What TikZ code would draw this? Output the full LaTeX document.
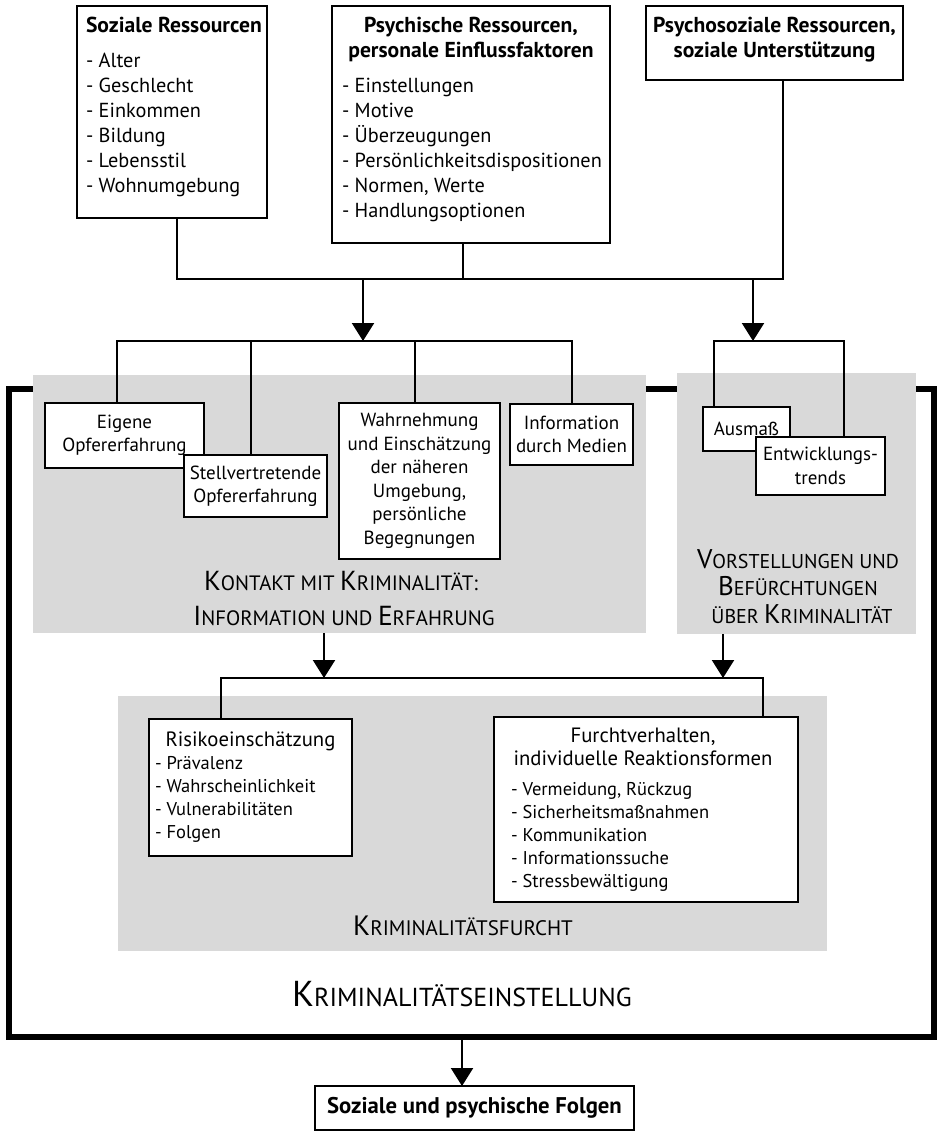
\documentclass[tikz,border=0pt]{standalone}
\usepackage{fontspec}
\setmainfont{PT Sans}
\usetikzlibrary{arrows.meta}
\definecolor{graybg}{RGB}{217,217,217}
\newcommand\capA[2]{{\fontsize{#1}{#1}\selectfont #2}}
\newcommand\hdB[1]{{\fontsize{21.6}{25}\selectfont\bfseries #1}}
\newcommand\hdL[1]{{\fontsize{20.7}{25}\selectfont #1}}
\begin{document}
\begin{tikzpicture}[x=1pt,y=-1pt,
  every node/.style={outer sep=0pt, inner sep=0pt},
  box/.style={draw, line width=2.2pt, fill=white, anchor=north west, align=center,
              font=\fontsize{19}{23.5}\selectfont},
  txt/.style={font=\fontsize{20.3}{25}\selectfont},
  stxt/.style={font=\fontsize{18.5}{23}\selectfont},
  ln/.style={line width=2.2pt},
  arr/.style={line width=2.2pt, -{Triangle[width=22pt,length=18pt]}},
  grayarea/.style={fill=graybg, anchor=north west},
  lab/.style={anchor=base}
]
\useasboundingbox (0,0) rectangle (939,1131);

% outer frame
\node[draw, line width=5.5pt, anchor=north west, minimum width=925pt, minimum height=648pt] (frame) at (9,389) {};

% gray areas
\node[grayarea, minimum width=613pt, minimum height=258pt] (g1) at (33,375) {};
\node[grayarea, minimum width=239pt, minimum height=261pt] (g2) at (677,373) {};
\node[grayarea, minimum width=709pt, minimum height=255pt] (g3) at (118,696) {};

% gray labels
\node[lab] (k1) at (341,590) {\capA{27.5}{K}\capA{20.8}{ONTAKT MIT }\capA{27.5}{K}\capA{20.8}{RIMINALITÄT:}};
\node[lab] (k2) at (344,625) {\capA{27.5}{I}\capA{20.8}{NFORMATION UND }\capA{27.5}{E}\capA{20.8}{RFAHRUNG}};
\node[lab] (v1) at (798,568) {\capA{27}{V}\capA{20}{ORSTELLUNGEN UND}};
\node[lab] (v2) at (798,595) {\capA{27}{B}\capA{20}{EFÜRCHTUNGEN}};
\node[lab] (v3) at (802,623) {\capA{20}{ÜBER }\capA{27}{K}\capA{20}{RIMINALITÄT}};
\node[lab] (kf) at (463,935) {\capA{28}{K}\capA{21}{RIMINALITÄTSFURCHT}};
\node[lab] (ke) at (462,1006) {\capA{36}{K}\capA{26}{RIMINALITÄTSEINSTELLUNG}};

% top boxes
\node[box, minimum width=190pt, minimum height=212pt] (soz) at (77,6) {};
\node[txt, anchor=base west, align=left] (sozT) at (86,193)
  {\hdB{Soziale Ressourcen}\\[10pt]- Alter\\- Geschlecht\\- Einkommen\\- Bildung\\- Lebensstil\\- Wohnumgebung};
\node[box, minimum width=278pt, minimum height=237pt] (psy) at (332,6) {};
\node[txt, anchor=base, align=center] (psyH) at (471,58)
  {\hdB{Psychische Ressourcen,}\\\hdB{personale Einflussfaktoren}};
\node[txt, anchor=base west, align=left] (psyL) at (342,218)
  {- Einstellungen\\- Motive\\- Überzeugungen\\- Persönlichkeitsdispositionen\\- Normen, Werte\\- Handlungsoptionen};
\node[box, minimum width=257pt, minimum height=74pt] (pso) at (646,6) {};
\node[txt, anchor=base, align=center] (psoH) at (774.5,58)
  {\hdB{Psychosoziale Ressourcen,}\\\hdB{soziale Unterstützung}};

% connectors top
\coordinate (t1) at (177,279);
\coordinate (t2) at (463,279);
\coordinate (t3) at (783,279);
\draw[ln] (t1 |- soz.south) -- (t1) -- (t3) -- (t3 |- pso.south);
\draw[ln] (t2 |- psy.south) -- (t2);
\coordinate (a1) at (363,279);
\coordinate (b1) at (363,341);
\coordinate (a2) at (753,279);
\coordinate (b2) at (753,341);
\draw[arr] (a1) -- (b1);
\draw[arr] (a2) -- (b2);

% middle connectors
\coordinate (l1) at (117,341);
\coordinate (l2) at (251,341);
\coordinate (l3) at (415,341);
\coordinate (l4) at (572,341);
\coordinate (r1) at (714,341);
\coordinate (r2) at (844,341);

% middle boxes
\node[box, minimum width=159pt, minimum height=65pt] (eig) at (45,403) {Eigene\\Opfererfahrung};
\node[box, minimum width=143pt, minimum height=62pt] (stv) at (184,455) {Stellvertretende\\Opfererfahrung};
\node[box, minimum width=161pt, minimum height=156pt] (wahr) at (339,403)
  {Wahrnehmung\\und Einschätzung\\der näheren\\Umgebung,\\persönliche\\Begegnungen};
\node[box, minimum width=123pt, minimum height=61pt] (info) at (510,404) {Information\\durch Medien};
\node[box, minimum width=87pt, minimum height=44pt] (aus) at (703,407) {Ausmaß};
\node[box, minimum width=129pt, minimum height=58pt] (ent) at (756,437) {Entwicklungs-\\trends};

\draw[ln] (l1 |- eig.north) -- (l1) -- (l4) -- (l4 |- info.north);
\draw[ln] (l2) -- (l2 |- stv.north);
\draw[ln] (l3) -- (l3 |- wahr.north);
\draw[ln] (r1 |- aus.north) -- (r1) -- (r2) -- (r2 |- ent.north);

% lower connectors
\coordinate (a3) at (324,678);
\coordinate (a4) at (723,678);
\draw[arr] (a3 |- g1.south) -- (a3);
\draw[arr] (a4 |- g2.south) -- (a4);

% lower boxes
\node[box, minimum width=203pt, minimum height=137pt] (risk) at (149,719) {};
\node[stxt, anchor=base] (riskH) at (250.5,746) {\hdL{Risikoeinschätzung}};
\node[stxt, anchor=base west, align=left] (riskL) at (155,838)
  {- Prävalenz\\- Wahrscheinlichkeit\\- Vulnerabilitäten\\- Folgen};
\node[box, minimum width=304pt, minimum height=185pt] (fur) at (494,717) {};
\node[stxt, anchor=base, align=center] (furH) at (643,765)
  {\hdL{Furchtverhalten,}\\\hdL{individuelle Reaktionsformen}};
\node[stxt, anchor=base west, align=left] (furL) at (511,887)
  {- Vermeidung, Rückzug\\- Sicherheitsmaßnahmen\\- Kommunikation\\- Informationssuche\\- Stressbewältigung};

\coordinate (m1) at (221,678);
\coordinate (m2) at (763,678);
\draw[ln] (m1 |- risk.north) -- (m1) -- (m2) -- (m2 |- fur.north);

% final
\node[box, minimum width=319pt, minimum height=44pt, font=\fontsize{22.7}{26}\selectfont\bfseries] (fin) at (315,1086) {Soziale und psychische Folgen};
\coordinate (a5) at (462,1037);
\draw[arr] (a5) -- (a5 |- fin.north);
\end{tikzpicture}
\end{document}
